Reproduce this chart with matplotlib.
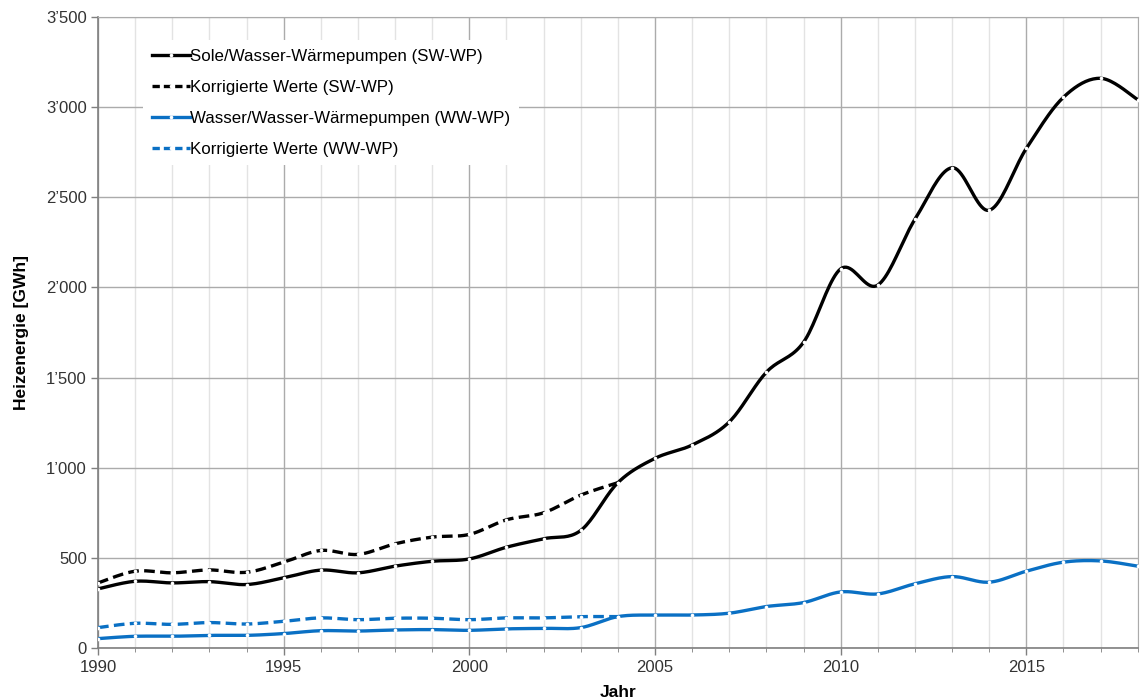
import numpy as np
import matplotlib
matplotlib.use("Agg")
import matplotlib.pyplot as plt
from matplotlib.ticker import FuncFormatter, MultipleLocator

plt.rcParams['font.family'] = ['Liberation Sans', 'DejaVu Sans']

years = list(range(1990, 2019))
sw_values = [328, 370, 361, 368, 352, 389, 432, 417, 454, 481, 494, 559, 606, 652,
             917, 1052, 1126, 1254, 1530, 1696, 2103, 2013, 2378, 2664, 2428, 2771,
             3055, 3160, 3042]
sw_corr_years = list(range(1990, 2005))
sw_corr_values = [361, 426, 417, 433, 420, 476, 541, 519, 578, 615, 630, 711, 750, 848, 917]
ww_values = [52, 65, 65, 70, 70, 80, 96, 94, 100, 102, 98, 106, 109, 113,
             174, 183, 183, 193, 230, 252, 311, 300, 356, 396, 365, 426, 476, 483, 454]
ww_corr_years = list(range(1990, 2005))
ww_corr_values = [113, 137, 131, 141, 133, 148, 167, 157, 165, 165, 157, 167, 167, 174, 174]

labels = ["Sole/Wasser-Wärmepumpen (SW-WP)", "Korrigierte Werte (SW-WP)",
          "Wasser/Wasser-Wärmepumpen (WW-WP)", "Korrigierte Werte (WW-WP)"]
BLUE = "#0A70C4"


def smooth(x, y, n=20):
    """Catmull-Rom / Bezier smoothing like a spreadsheet 'smoothed line'."""
    x = np.asarray(x, float)
    y = np.asarray(y, float)
    P = np.column_stack([x, y])
    Pp = np.vstack([P[0], P, P[-1]])
    out = []
    t = np.linspace(0, 1, n, endpoint=False)[:, None]
    for i in range(len(P) - 1):
        p0, p1, p2, p3 = Pp[i], Pp[i + 1], Pp[i + 2], Pp[i + 3]
        c1 = p1 + (p2 - p0) / 6.0
        c2 = p2 - (p3 - p1) / 6.0
        seg = ((1 - t) ** 3) * p1 + 3 * ((1 - t) ** 2) * t * c1 + 3 * (1 - t) * t ** 2 * c2 + t ** 3 * p2
        out.append(seg)
    out.append(P[-1][None, :])
    out = np.vstack(out)
    return out[:, 0], out[:, 1]


fig = plt.figure(figsize=(11.4, 7.0), dpi=100)
ax = fig.add_axes([0.086, 0.0743, 0.912, 0.9014])

lw = 2.4
dash = (3.2, 1.6)
series = [
    (years, sw_values, "black", "-"),
    (sw_corr_years, sw_corr_values, "black", "--"),
    (years, ww_values, BLUE, "-"),
    (ww_corr_years, ww_corr_values, BLUE, "--"),
]
handles = []
for (xs, ys, c, ls), lab in zip(series, labels):
    sx, sy = smooth(xs, ys)
    line, = ax.plot(sx, sy, color=c, lw=lw, solid_capstyle='round', zorder=3)
    if ls == "--":
        line.set_dashes(dash)
    ax.plot(xs, ys, ls='none', marker='o', ms=2.6, mfc='white', mec='white', mew=0, zorder=4)
    h, = ax.plot([], [], color=c, lw=lw, marker='o', ms=2.6, mfc='white', mec='white', mew=0)
    if ls == "--":
        h.set_dashes((2.2, 1.2))
    handles.append(h)

ax.set_xlim(1990, 2018)
ax.set_ylim(0, 3500)
ax.xaxis.set_major_locator(MultipleLocator(5))
ax.xaxis.set_minor_locator(MultipleLocator(1))
ax.yaxis.set_major_locator(MultipleLocator(500))
ax.yaxis.set_major_formatter(FuncFormatter(
    lambda v, p: f"{int(v):,}".replace(",", "\u2019")))

ax.grid(which='major', axis='both', color='#ababab', lw=1.0, zorder=0)
ax.grid(which='minor', axis='x', color='#e3e3e3', lw=1.0, zorder=0)
ax.set_axisbelow(True)

for s in ['top', 'right']:
    ax.spines[s].set_color('#ababab')
for s in ['left', 'bottom']:
    ax.spines[s].set_color('#7f7f7f')
    ax.spines[s].set_linewidth(1.2)

ax.tick_params(axis='both', which='major', labelsize=12, colors='#7f7f7f',
               labelcolor='#333333', length=5, width=1)
ax.tick_params(axis='x', which='minor', length=3, colors='#7f7f7f')
ax.tick_params(axis='x', pad=4)
ax.tick_params(axis='y', pad=3)

ax.set_ylabel("Heizenergie [GWh]", fontsize=12.5, fontweight='bold', labelpad=12)
ax.set_xlabel("Jahr", fontsize=12.5, fontweight='bold', labelpad=7)

leg = ax.legend(handles, labels, loc='upper left', bbox_to_anchor=(0.0437, 0.9635),
                frameon=True, fancybox=False, edgecolor='white', facecolor='white',
                framealpha=1.0, fontsize=12.2, handlelength=2.25, handletextpad=0.0,
                labelspacing=0.95, borderpad=0.5, borderaxespad=0.0)
leg.get_frame().set_linewidth(0)

fig.savefig("out.png", dpi=100)
